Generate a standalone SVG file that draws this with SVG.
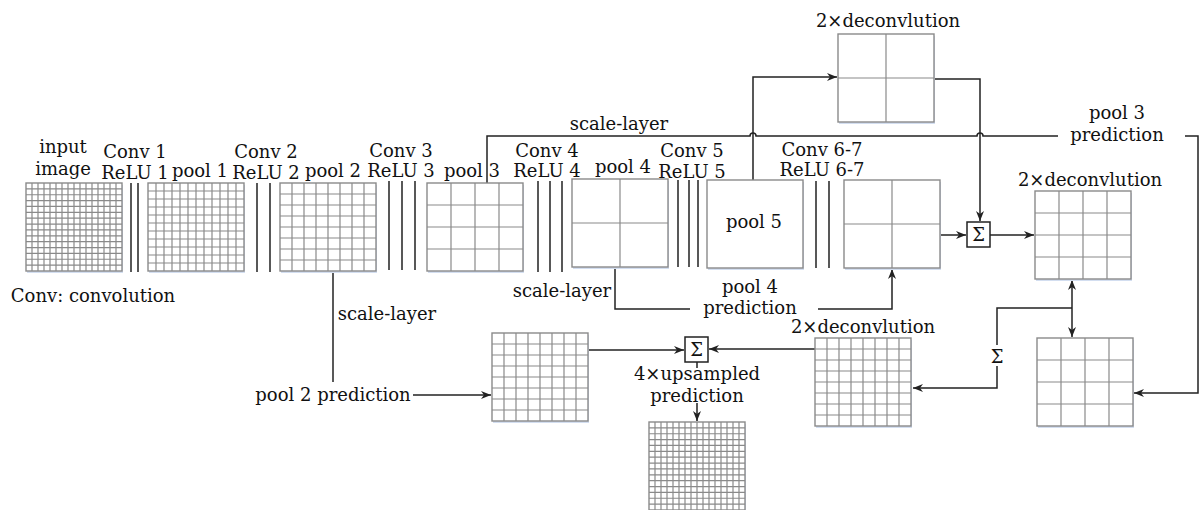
<svg xmlns="http://www.w3.org/2000/svg" xmlns:xlink="http://www.w3.org/1999/xlink" width="1199" height="510" viewBox="0 0 1199 510">
<style>
text{font-family:"DejaVu Serif","Liberation Serif",serif;font-size:18px;fill:#111;text-anchor:middle}
.gl{stroke:#8a8a8a;stroke-width:1.2;fill:none}
.gb{fill:#fff;stroke:#8a8a8a;stroke-width:1.4}
.sh{fill:#d3def0}
.cl{stroke:#222;stroke-width:1.5}
.cn{fill:none;stroke:#222;stroke-width:1.5}
.sb{fill:#fff;stroke:#222;stroke-width:1.5}
</style>
<defs>
<marker id="ah" viewBox="0 0 10 8" refX="10" refY="4" markerWidth="10" markerHeight="8" markerUnits="userSpaceOnUse" orient="auto-start-reverse">
<path d="M0,0 L10,4 L0,8 L3,4 z" fill="#222"/>
</marker>
<g id="box"><rect class="sh" x="1" y="2" width="96" height="88"/><rect class="gb" x="0" y="0" width="96" height="88"/></g>
<g id="g2"><use href="#box"/><path class="gl" d="M48 0v88M0 44h96"/></g>
<g id="g4"><use href="#box"/><path class="gl" d="M24 0v88M48 0v88M72 0v88M0 22h96M0 44h96M0 66h96"/></g>
<g id="g8"><use href="#box"/><path class="gl" d="M12 0v88M24 0v88M36 0v88M48 0v88M60 0v88M72 0v88M84 0v88M0 11h96M0 22h96M0 33h96M0 44h96M0 55h96M0 66h96M0 77h96"/></g>
<g id="g12"><use href="#box"/><path class="gl" d="M8 0v88M16 0v88M24 0v88M32 0v88M40 0v88M48 0v88M56 0v88M64 0v88M72 0v88M80 0v88M88 0v88M0 8h96M0 16h96M0 24h96M0 32h96M0 40h96M0 48h96M0 56h96M0 64h96M0 72h96M0 80h96"/></g>
<g id="g16"><use href="#box"/><path class="gl" d="M6 0v88M12 0v88M18 0v88M24 0v88M30 0v88M36 0v88M42 0v88M48 0v88M54 0v88M60 0v88M66 0v88M72 0v88M78 0v88M84 0v88M90 0v88M0 5.87h96M0 11.73h96M0 17.6h96M0 23.47h96M0 29.33h96M0 35.2h96M0 41.07h96M0 46.93h96M0 52.8h96M0 58.67h96M0 64.53h96M0 70.4h96M0 76.27h96M0 82.13h96"/></g>
</defs>
<rect width="1199" height="510" fill="#fff"/>

<g id="connectors">
<path class="cn" d="M333,272 V382"/>
<path class="cn" d="M413,395 H491" marker-end="url(#ah)"/>
<path class="cn" d="M588,350 H684" marker-end="url(#ah)"/>
<path class="cn" d="M815,349 H709" marker-end="url(#ah)"/>
<path class="cn" d="M697,362 V368 M697,403 V421" marker-end="url(#ah)"/>
<path class="cn" d="M487,183 V136 H750 a3,3 0 0 1 6,0 H977 a3,3 0 0 1 6,0 H1058"/>
<path class="cn" d="M1185,136 H1198 V393 H1134" marker-end="url(#ah)"/>
<path class="cn" d="M753,180 V77 H837" marker-end="url(#ah)"/>
<path class="cn" d="M935,79 H980 V221" marker-end="url(#ah)"/>
<path class="cn" d="M939,235 H966" marker-end="url(#ah)"/>
<path class="cn" d="M990,235 H1034" marker-end="url(#ah)"/>
<path class="cn" d="M1072,280 V337" marker-start="url(#ah)" marker-end="url(#ah)"/>
<path class="cn" d="M1072,308 H997 V345 M997,366 V388 H913" marker-end="url(#ah)"/>
<path class="cn" d="M615,267 V309 H690 M818,309 H892 V269" marker-end="url(#ah)"/>
</g>

<g id="input"><use href="#g16" x="26" y="183"/><text x="63" y="153">input</text><text x="63" y="175">image</text></g>
<g id="conv1"><path class="cl" d="M131,183V272M138,183V272"/><text x="135" y="158">Conv 1</text><text x="135" y="179">ReLU 1</text></g>
<g id="pool1"><use href="#g12" x="148" y="183"/><text x="200" y="177">pool 1</text></g>
<g id="conv2"><path class="cl" d="M257,183V272M270,183V272"/><text x="266" y="158">Conv 2</text><text x="266" y="179">ReLU 2</text></g>
<g id="pool2"><use href="#g8" x="280" y="183"/><text x="333" y="177">pool 2</text></g>
<g id="conv3"><path class="cl" d="M389,181V270M402,181V270M415,181V270"/><text x="401" y="157">Conv 3</text><text x="401" y="177">ReLU 3</text></g>
<g id="pool3"><use href="#g4" x="427" y="183"/><text x="472" y="177">pool 3</text></g>
<g id="conv4"><path class="cl" d="M538,181V272M550,181V272M562,181V272"/><text x="547" y="157">Conv 4</text><text x="547" y="177">ReLU 4</text></g>
<g id="pool4"><use href="#g2" x="572" y="179"/><text x="623" y="173">pool 4</text></g>
<g id="conv5"><path class="cl" d="M678,180V267M689,180V267M698,180V267"/><text x="692" y="157">Conv 5</text><text x="692" y="178">ReLU 5</text></g>
<g id="pool5"><use href="#box" x="707" y="180"/><text x="754" y="228">pool 5</text></g>
<g id="conv67"><path class="cl" d="M816,181V268M829,181V268"/><text x="822" y="156">Conv 6-7</text><text x="822" y="176">ReLU 6-7</text></g>
<g id="conv67-out"><use href="#g2" x="844" y="180"/></g>
<g id="deconv-top"><use href="#g2" x="838" y="34"/><text x="888" y="27">2×deconvlution</text></g>
<g id="sum1"><rect class="sb" x="967" y="222" width="23" height="25"/><text x="978.5" y="241">Σ</text></g>
<g id="deconv-right"><use href="#g4" x="1035" y="191"/><text x="1090" y="186">2×deconvlution</text></g>
<g id="pool3pred-grid"><use href="#g4" x="1037" y="338"/></g>
<g id="sum2"><text x="997" y="363">Σ</text></g>
<g id="deconv-bottom"><use href="#g8" x="815" y="338"/><text x="863" y="333">2×deconvlution</text></g>
<g id="pool2pred-grid"><use href="#g8" x="492" y="333"/></g>
<g id="sum3"><rect class="sb" x="685" y="337" width="23" height="25"/><text x="696.5" y="356">Σ</text></g>
<g id="output"><use href="#g16" x="649" y="422"/><text x="697" y="380">4×upsampled</text><text x="697" y="402">prediction</text></g>

<g id="labels">
<text x="619" y="130">scale-layer</text>
<text x="1117" y="119">pool 3</text>
<text x="1117" y="141">prediction</text>
<text x="750" y="293">pool 4</text>
<text x="750" y="314">prediction</text>
<text x="562" y="297">scale-layer</text>
<text x="387" y="320">scale-layer</text>
<text x="333" y="401">pool 2 prediction</text>
<text x="93" y="302">Conv: convolution</text>
</g>
</svg>
